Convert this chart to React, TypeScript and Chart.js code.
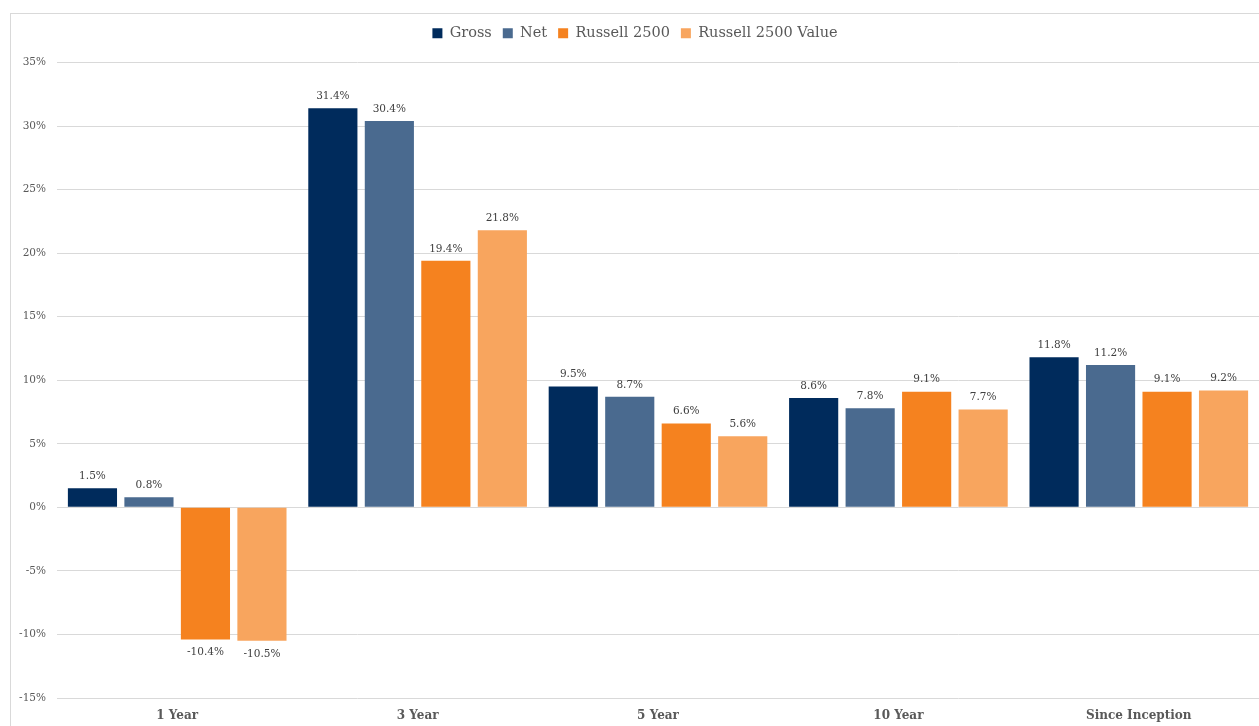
import React, { useEffect, useRef } from "react";
import { Chart, registerables } from "chart.js";

Chart.register(...registerables);

const categories = ["1 Year", "3 Year", "5 Year", "10 Year", "Since Inception"];
const gross = [1.5, 31.4, 9.5, 8.6, 11.8];
const net = [0.8, 30.4, 8.7, 7.8, 11.2];
const russell2500 = [-10.4, 19.4, 6.6, 9.1, 9.1];
const russell2500Value = [-10.5, 21.8, 5.6, 7.7, 9.2];
const seriesNames = ["Gross", "Net", "Russell 2500", "Russell 2500 Value"];
const seriesColors = ["#002b5c", "#4a6a8f", "#f5821f", "#f8a55e"];
const yMin = -15;
const yMax = 35;
const yStep = 5;

const FONT = "'DejaVu Serif', serif";

const dataLabelPlugin = {
  id: "dataLabels",
  afterDatasetsDraw(chart: any) {
    const ctx = chart.ctx;
    ctx.save();
    ctx.font = `10.5px ${FONT}`;
    ctx.fillStyle = "#404040";
    ctx.textAlign = "center";
    ctx.textBaseline = "middle";
    chart.data.datasets.forEach((ds: any, i: number) => {
      const meta = chart.getDatasetMeta(i);
      meta.data.forEach((bar: any, j: number) => {
        const v = ds.data[j];
        const y = v >= 0 ? bar.y - 12 : bar.y + 13;
        ctx.fillText(v.toFixed(1) + "%", bar.x, y);
      });
    });
    ctx.restore();
  },
};

const legendSpacePlugin = {
  id: "legendSpace",
  beforeInit(chart: any) {
    const legend = chart.legend;
    if (!legend) return;
    const orig = legend.fit;
    legend.fit = function () {
      orig.call(this);
      this.height += 12;
    };
  },
};

export default function App() {
  const ref = useRef<HTMLCanvasElement>(null);
  useEffect(() => {
    if (!ref.current) return;
    const values = [gross, net, russell2500, russell2500Value];
    const chart = new Chart(ref.current, {
      type: "bar",
      data: {
        labels: categories,
        datasets: values.map((d, i) => ({
          label: seriesNames[i],
          data: d,
          backgroundColor: seriesColors[i],
          borderWidth: 0,
          categoryPercentage: 0.94,
          barPercentage: 0.87,
        })),
      },
      options: {
        animation: false,
        responsive: true,
        maintainAspectRatio: false,
        layout: { padding: { top: 1, right: 0, left: 0, bottom: 0 } },
        plugins: {
          tooltip: { enabled: false },
          legend: {
            position: "top",
            labels: {
              boxWidth: 10,
              boxHeight: 10,
              padding: 11,
              color: "#595959",
              font: { family: FONT, size: 14.5 },
            },
          },
        },
        scales: {
          x: {
            grid: { display: false, drawTicks: false },
            border: { display: false },
            ticks: {
              color: "#595959",
              padding: 11,
              font: { family: FONT, size: 12, weight: "bold" },
            },
            afterFit: (s: any) => {
              s.height = 28;
            },
          },
          y: {
            min: yMin,
            max: yMax,
            grid: { color: "#d9d9d9", drawTicks: false },
            border: { display: false },
            ticks: {
              stepSize: yStep,
              padding: 11,
              color: "#595959",
              font: { family: FONT, size: 10.5 },
              callback: (v: any) => v + "%",
            },
            afterFit: (s: any) => {
              s.width = 46;
            },
          },
        },
      },
      plugins: [dataLabelPlugin, legendSpacePlugin],
    } as any);
    return () => chart.destroy();
  }, []);
  return (
    <div
      style={{
        position: "fixed",
        left: 10,
        top: 13,
        width: 1258,
        height: 730,
        border: "1px solid #d9d9d9",
        background: "#fff",
      }}
    >
      <div style={{ position: "absolute", left: 0, top: 0, width: 1248, height: 712 }}>
        <canvas ref={ref} />
      </div>
    </div>
  );
}
